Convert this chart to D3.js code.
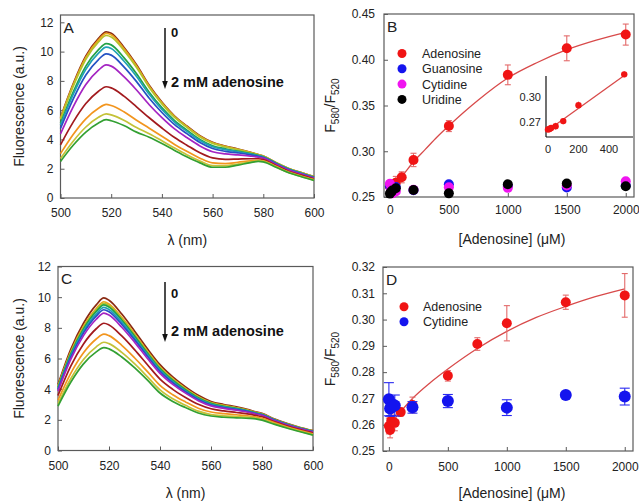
<!DOCTYPE html>
<html><head><meta charset="utf-8">
<script src="https://cdn.jsdelivr.net/npm/d3@7"></script>
<style>body{margin:0;background:#fff} svg{display:block} text{font-family:"Liberation Sans",Arial,sans-serif}</style>
</head><body><svg id="c" width="639" height="502"></svg>
<script>
// ---------- DATA ----------
const wavelengths = [500,505,510,515,518,520,525,530,535,540,545,550,555,560,565,570,575,578,580,585,590,595,600];
const spectraA = [
 [5.5,7.8,9.7,10.9,11.35,11.25,10.3,9.1,7.7,6.55,5.6,4.9,4.25,3.8,3.55,3.35,3.12,2.97,2.87,2.42,2.02,1.73,1.46],
 [5.45,7.73,9.61,10.8,11.25,11.15,10.21,9.02,7.64,6.5,5.56,4.86,4.22,3.77,3.53,3.33,3.11,2.96,2.86,2.41,2.01,1.73,1.46],
 [5.37,7.62,9.48,10.66,11.1,11.0,10.08,8.91,7.55,6.43,5.5,4.81,4.17,3.73,3.49,3.3,3.09,2.95,2.85,2.41,2.01,1.72,1.45],
 [5.1,7.24,9.01,10.13,10.55,10.46,9.59,8.49,7.23,6.17,5.29,4.62,4.0,3.57,3.36,3.2,3.03,2.91,2.82,2.38,1.98,1.69,1.43],
 [4.98,7.07,8.79,9.89,10.3,10.21,9.36,8.3,7.08,6.05,5.19,4.53,3.93,3.5,3.3,3.16,3.0,2.89,2.8,2.36,1.97,1.68,1.41],
 [4.75,6.75,8.4,9.46,9.85,9.76,8.96,7.95,6.81,5.84,5.01,4.38,3.79,3.38,3.19,3.08,2.95,2.85,2.77,2.34,1.95,1.66,1.4],
 [4.38,6.23,7.75,8.73,9.1,9.01,8.29,7.38,6.37,5.49,4.72,4.11,3.56,3.16,3.01,2.94,2.86,2.79,2.72,2.3,1.91,1.63,1.36],
 [3.63,5.18,6.45,7.29,7.6,7.52,6.96,6.23,5.48,4.78,4.13,3.59,3.09,2.74,2.64,2.66,2.68,2.68,2.62,2.22,1.83,1.56,1.3],
 [3.03,4.34,5.41,6.13,6.4,6.32,5.89,5.31,4.77,4.22,3.66,3.17,2.72,2.4,2.35,2.44,2.54,2.58,2.54,2.16,1.77,1.5,1.25],
 [2.7,3.88,4.85,5.51,5.75,5.68,5.31,4.81,4.39,3.91,3.41,2.94,2.52,2.21,2.2,2.32,2.47,2.53,2.5,2.12,1.74,1.47,1.22],
 [2.5,3.6,4.5,5.12,5.35,5.28,4.95,4.5,4.15,3.72,3.25,2.8,2.4,2.1,2.1,2.25,2.42,2.5,2.47,2.1,1.72,1.45,1.2]
];
const spectraC = [
 [4.3,6.6,8.3,9.5,9.95,9.8,8.9,7.8,6.65,5.6,4.8,4.15,3.6,3.2,3.0,2.85,2.65,2.5,2.42,2.05,1.75,1.5,1.3],
 [4.19,6.43,8.1,9.26,9.7,9.56,8.68,7.62,6.49,5.46,4.68,4.05,3.51,3.13,2.94,2.79,2.61,2.47,2.39,2.02,1.73,1.48,1.28],
 [4.15,6.37,8.01,9.17,9.6,9.46,8.6,7.54,6.43,5.4,4.63,4.0,3.48,3.1,2.91,2.77,2.59,2.45,2.37,2.01,1.72,1.47,1.27],
 [4.11,6.3,7.93,9.07,9.5,9.36,8.51,7.47,6.37,5.34,4.58,3.96,3.44,3.07,2.88,2.75,2.57,2.44,2.36,2.0,1.71,1.46,1.26],
 [4.03,6.19,7.79,8.91,9.33,9.2,8.37,7.34,6.26,5.25,4.49,3.89,3.38,3.02,2.84,2.71,2.54,2.41,2.34,1.98,1.69,1.45,1.24],
 [3.97,6.09,7.67,8.77,9.18,9.05,8.23,7.23,6.16,5.16,4.42,3.83,3.33,2.97,2.8,2.68,2.52,2.39,2.32,1.97,1.68,1.43,1.23],
 [3.87,5.94,7.49,8.56,8.96,8.83,8.04,7.07,6.02,5.03,4.31,3.74,3.25,2.91,2.75,2.63,2.48,2.36,2.29,1.94,1.66,1.41,1.21],
 [3.59,5.51,6.95,7.94,8.3,8.19,7.47,6.58,5.61,4.66,3.99,3.46,3.01,2.72,2.58,2.48,2.37,2.27,2.2,1.87,1.6,1.36,1.15],
 [3.28,5.03,6.37,7.27,7.59,7.49,6.86,6.05,5.16,4.25,3.64,3.17,2.76,2.51,2.4,2.33,2.25,2.17,2.1,1.8,1.53,1.3,1.08],
 [3.05,4.68,5.94,6.76,7.06,6.97,6.4,5.66,4.82,3.95,3.37,2.95,2.57,2.35,2.26,2.21,2.16,2.1,2.03,1.74,1.48,1.25,1.03],
 [2.9,4.45,5.65,6.43,6.71,6.63,6.1,5.4,4.6,3.75,3.2,2.8,2.45,2.25,2.17,2.13,2.1,2.05,1.98,1.7,1.45,1.22,1.0]
];
const curveColors = ["#8a2a12","#eaa21c","#b4c22a","#23a246","#1fa2b4","#2452c4","#a424c2","#a21a1e","#f2951e","#c4c238","#33a032"];

const spectraXTicks = [500,520,540,560,580,600];
const spectraYTicks = [0,2,4,6,8,10,12];

// Panel B
const bAdenX = [0,10,20,50,100,200,500,1000,1500,2000];
const bAdenY = [0.2615,0.262,0.2632,0.2655,0.2715,0.2905,0.3275,0.3835,0.4125,0.4275];
const bAdenErr = [0.002,0.002,0.003,0.007,0.006,0.0073,0.006,0.0108,0.0136,0.0115];
const bOtherX = [0,10,20,50,200,500,1000,1500,2000];
const bGuanY = [0.262,0.259,0.258,0.261,0.2575,0.264,0.262,0.2603,0.2625];
const bCytY = [0.2645,0.2575,0.254,0.256,0.258,0.2606,0.260,0.2625,0.2672];
const bUriY = [0.2537,0.2555,0.257,0.2595,0.2577,0.254,0.264,0.2647,0.2617];
const bFitX = [0,50,100,200,300,400,500,750,1000,1250,1500,1750,2000];
const bFitY = [0.262,0.2655,0.2725,0.2885,0.302,0.3155,0.3278,0.356,0.380,0.397,0.411,0.4215,0.430];
const bInsetFitX = [0,500];
const bInsetFitY = [0.2605,0.326];
const bYTicks = [0.25,0.30,0.35,0.40,0.45];
const ratioXTicks = [0,500,1000,1500,2000];
const insetXTicks = [0,200,400];
const insetYTicks = [0.27,0.30];
const bLegend = ["Adenosine","Guanosine","Cytidine","Uridine"];
const bLegendColors = ["#f01414","#1414ee","#f014f0","#000000"];

// Panel D
const dAdenX = [0,10,20,50,100,200,500,750,1000,1500,2000];
const dAdenY = [0.2595,0.258,0.2615,0.2607,0.2648,0.2675,0.2786,0.2907,0.2986,0.3066,0.3092];
const dAdenErr = [0.003,0.003,0.003,0.003,0.0015,0.003,0.002,0.0024,0.0067,0.0027,0.0083];
const dCytX = [0,10,20,50,200,500,1000,1500,2000];
const dCytY = [0.2697,0.2662,0.2665,0.2673,0.2666,0.269,0.2665,0.2713,0.2707];
const dCytErr = [0.0063,0.003,0.003,0.004,0.0022,0.0025,0.003,0.001,0.0032];
const dFitX = [0,100,200,350,500,750,1000,1250,1500,1750,2000];
const dFitY = [0.2595,0.265,0.270,0.276,0.2812,0.289,0.2955,0.3008,0.305,0.3087,0.3117];
const dYTicks = [0.25,0.26,0.27,0.28,0.29,0.30,0.31,0.32];
const dLegend = ["Adenosine","Cytidine"];
const dLegendColors = ["#f01414","#1414ee"];

// ---------- DRAWING ----------
const svg = d3.select("#c");
const TXT = "#222";
const FRAME = "#5a5a5a";

function panel(o){
  const x = d3.scaleLinear().domain(o.xd).range([o.l,o.r]);
  const y = d3.scaleLinear().domain(o.yd).range([o.b,o.t]);
  const g = svg.append("g");
  const ax = g.append("g").attr("transform",`translate(0,${o.b})`)
    .call(d3.axisBottom(x).tickValues(o.xt).tickSizeInner(-4).tickSizeOuter(0).tickPadding(o.xpad).tickFormat(o.xf||d3.format("d")));
  const ay = g.append("g").attr("transform",`translate(${o.l},0)`)
    .call(d3.axisLeft(y).tickValues(o.yt).tickSizeInner(-4).tickSizeOuter(0).tickPadding(o.ypad).tickFormat(o.yf||d3.format("d")));
  [ax,ay].forEach(a=>{
    a.select(".domain").remove();
    a.selectAll("line").attr("stroke",FRAME);
    a.selectAll("text").attr("fill",TXT).style("font-size","12px").style("font-family",'"Liberation Sans",Arial,sans-serif');
  });
  g.append("rect").attr("x",o.l).attr("y",o.t).attr("width",o.r-o.l).attr("height",o.b-o.t)
    .attr("fill","none").attr("stroke",FRAME).attr("stroke-width",1.2);
  g.append("text").attr("x",o.l+3).attr("y",o.t+17.5).text(o.letter)
    .attr("fill",TXT).style("font-size","15.5px");
  return {x,y,g};
}

function spectraPanel(o, data){
  const p = panel(Object.assign({xd:[500,600], xt:spectraXTicks, yt:spectraYTicks, xpad:10.5, ypad:7}, o));
  const line = d3.line().x((d,i)=>p.x(wavelengths[i])).y(d=>p.y(d)).curve(d3.curveMonotoneX);
  data.forEach((s,k)=>{
    p.g.append("path").attr("d",line(s)).attr("fill","none")
      .attr("stroke",curveColors[k]).attr("stroke-width",1.7).attr("stroke-linejoin","round");
  });
  // arrow
  const ax = o.arrowX;
  p.g.append("line").attr("x1",ax).attr("x2",ax).attr("y1",o.arrowTop).attr("y2",o.arrowBot-6)
    .attr("stroke","#111").attr("stroke-width",1.5);
  p.g.append("path").attr("d",`M${ax-2.8},${o.arrowBot-8} L${ax+2.8},${o.arrowBot-8} L${ax},${o.arrowBot} Z`).attr("fill","#111");
  p.g.append("text").attr("x",ax+6).attr("y",o.zeroY).text("0")
    .attr("fill","#111").style("font-size","13px").style("font-weight","bold");
  p.g.append("text").attr("x",ax+6).attr("y",o.mmY).text("2 mM adenosine")
    .attr("fill","#111").style("font-size","14.5px").style("font-weight","bold");
  // axis titles
  svg.append("text").attr("x",(o.l+o.r)/2).attr("y",o.b+47).attr("text-anchor","middle")
    .text("λ (nm)").attr("fill",TXT).style("font-size","14px");
  svg.append("text").attr("transform",`translate(24,${(o.t+o.b)/2}) rotate(-90)`).attr("text-anchor","middle")
    .text("Fluorescence (a.u.)").attr("fill",TXT).style("font-size","14px");
}

spectraPanel({l:60.5,r:314,t:15,b:198,yd:[0,12.5],letter:"A",arrowX:165,arrowTop:28,arrowBot:89,zeroY:37,mmY:86.5}, spectraA);
spectraPanel({l:58,r:313,t:266.5,b:450.5,yd:[0,12],letter:"C",arrowX:165,arrowTop:282,arrowBot:342,zeroY:298,mmY:336}, spectraC);

function ratioTitles(o){
  svg.append("text").attr("x",512).attr("y",o.b+47).attr("text-anchor","middle")
    .text("[Adenosine] (μM)").attr("fill",TXT).style("font-size","14px");
  const t = svg.append("text").attr("transform",`translate(335,${(o.t+o.b)/2}) rotate(-90)`)
    .attr("text-anchor","middle").attr("fill",TXT).style("font-size","14px");
  t.append("tspan").text("F");
  t.append("tspan").text("580").attr("dy",4).style("font-size","10px");
  t.append("tspan").text("/F").attr("dy",-4);
  t.append("tspan").text("520").attr("dy",4).style("font-size","10px");
}

function errBars(g,x,y,xs,ys,es,color,cap){
  xs.forEach((xv,i)=>{
    const X=x(xv), y1=y(ys[i]-es[i]), y2=y(ys[i]+es[i]);
    g.append("line").attr("x1",X).attr("x2",X).attr("y1",y1).attr("y2",y2).attr("stroke",color).attr("stroke-width",1.1);
    g.append("line").attr("x1",X-cap).attr("x2",X+cap).attr("y1",y1).attr("y2",y1).attr("stroke",color).attr("stroke-width",1.1);
    g.append("line").attr("x1",X-cap).attr("x2",X+cap).attr("y1",y2).attr("y2",y2).attr("stroke",color).attr("stroke-width",1.1);
  });
}
function dots(g,x,y,xs,ys,color,r){
  xs.forEach((xv,i)=>g.append("circle").attr("cx",x(xv)).attr("cy",y(ys[i])).attr("r",r).attr("fill",color));
}
function fitLine(g,x,y,xs,ys,color,w){
  const line=d3.line().x((d,i)=>x(xs[i])).y(d=>y(d)).curve(d3.curveMonotoneX);
  g.append("path").attr("d",line(ys)).attr("fill","none").attr("stroke",color).attr("stroke-width",w);
}

// Panel B
{
  const o={l:384,r:634,t:14,b:197,xd:[-50,2070],yd:[0.25,0.45],xt:ratioXTicks,yt:bYTicks,xpad:8.5,ypad:9,yf:d3.format(".2f"),letter:"B"};
  const p=panel(o);
  ratioTitles(o);
  fitLine(p.g,p.x,p.y,bFitX,bFitY,"#d84a4a",1.3);
  errBars(p.g,p.x,p.y,bAdenX,bAdenY,bAdenErr,"#e36a6a",3);
  dots(p.g,p.x,p.y,bAdenX,bAdenY,bLegendColors[0],5);
  dots(p.g,p.x,p.y,bOtherX,bGuanY,bLegendColors[1],5);
  dots(p.g,p.x,p.y,bOtherX,bCytY,bLegendColors[2],5);
  dots(p.g,p.x,p.y,bOtherX,bUriY,bLegendColors[3],5);
  bLegend.forEach((n,i)=>{
    const yy=53.5+i*15.3;
    p.g.append("circle").attr("cx",402).attr("cy",yy).attr("r",4.5).attr("fill",bLegendColors[i]);
    p.g.append("text").attr("x",422).attr("y",yy+4.5).text(n).attr("fill",TXT).style("font-size","12.5px");
  });
  // inset
  const ix=d3.scaleLinear().domain([-13,564]).range([546,634]);
  const iy=d3.scaleLinear().domain([0.2525,0.3255]).range([137,76]);
  const ig=p.g.append("g");
  ig.append("line").attr("x1",546).attr("x2",546).attr("y1",iy(0.3255)).attr("y2",iy(0.2525)).attr("stroke","#111").attr("stroke-width",1.2);
  ig.append("line").attr("x1",546).attr("x2",633).attr("y1",iy(0.2525)).attr("y2",iy(0.2525)).attr("stroke","#111").attr("stroke-width",1.2);
  insetYTicks.forEach(v=>ig.append("text").attr("x",541).attr("y",iy(v)+4).attr("text-anchor","end").text(d3.format(".2f")(v)).attr("fill",TXT).style("font-size","11px"));
  insetXTicks.forEach(v=>ig.append("text").attr("x",ix(v)).attr("y",153).attr("text-anchor","middle").text(v).attr("fill",TXT).style("font-size","11px"));
  fitLine(ig,ix,iy,bInsetFitX,bInsetFitY,"#d84a4a",1.3);
  const ins = bAdenX.map((v,i)=>i).filter(i=>bAdenX[i]<=500);
  errBars(ig,ix,iy,ins.map(i=>bAdenX[i]),ins.map(i=>bAdenY[i]),ins.map(i=>bAdenErr[i]*0.6),"#e36a6a",0);
  dots(ig,ix,iy,ins.map(i=>bAdenX[i]),ins.map(i=>bAdenY[i]),bLegendColors[0],3.2);
}

// Panel D
{
  const o={l:383,r:633,t:267,b:451,xd:[-50,2070],yd:[0.25,0.32],xt:ratioXTicks,yt:dYTicks,xpad:11,ypad:8,yf:d3.format(".2f"),letter:"D"};
  const p=panel(o);
  ratioTitles(o);
  fitLine(p.g,p.x,p.y,dFitX,dFitY,"#d84a4a",1.3);
  errBars(p.g,p.x,p.y,dAdenX,dAdenY,dAdenErr,"#e36a6a",3);
  dots(p.g,p.x,p.y,dAdenX,dAdenY,dLegendColors[0],5);
  errBars(p.g,p.x,p.y,dCytX,dCytY,dCytErr,"#2a2af0",5);
  dots(p.g,p.x,p.y,dCytX,dCytY,dLegendColors[1],6);
  dLegend.forEach((n,i)=>{
    const yy=306.7+i*15;
    p.g.append("circle").attr("cx",404).attr("cy",yy).attr("r",4.5).attr("fill",dLegendColors[i]);
    p.g.append("text").attr("x",423).attr("y",yy+4.5).text(n).attr("fill",TXT).style("font-size","12.5px");
  });
}
</script></body></html>
